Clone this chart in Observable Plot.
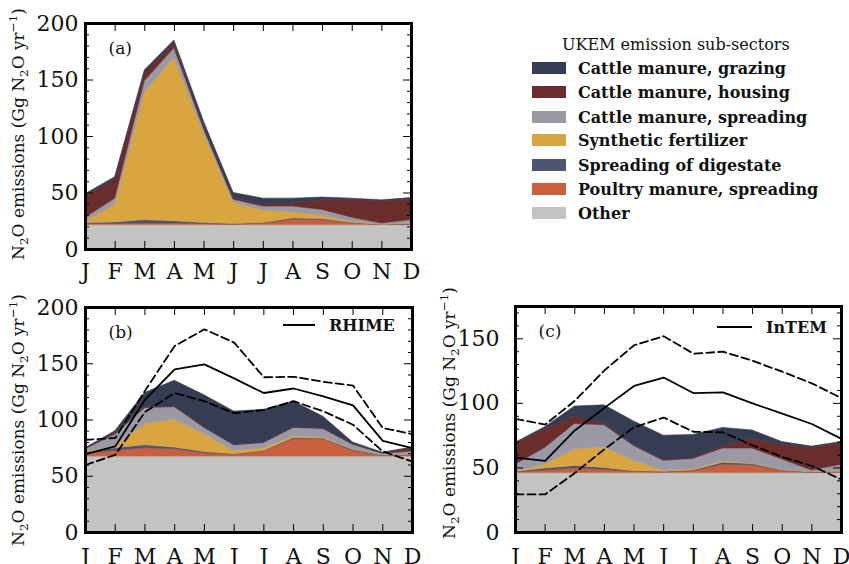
<!DOCTYPE html>
<html><head><meta charset="utf-8">
<script src="https://cdn.jsdelivr.net/npm/d3@7"></script>
<script src="https://cdn.jsdelivr.net/npm/@observablehq/plot@0.6"></script>
<style>
body{margin:0;background:#fff;}
#root{position:relative;width:849px;height:564px;overflow:hidden;font-family:"DejaVu Serif",serif;color:#111;}
.panel{position:absolute;}
.ylab{position:absolute;transform:translate(-50%,-50%) rotate(-90deg);white-space:nowrap;font-size:17px;}
.ylab sub,.ylab sup{font-size:70%;line-height:0;}
.legtitle{position:absolute;left:562px;top:35px;font-size:16px;white-space:nowrap;}
.item{position:absolute;left:532px;height:24px;display:flex;align-items:center;white-space:nowrap;font-weight:bold;font-size:16px;}
.sw{width:34px;height:12px;margin-right:12px;}
.lineleg{position:absolute;display:flex;align-items:center;font-weight:bold;font-size:16px;white-space:nowrap;}
.lineleg span.l{display:inline-block;height:0;border-top:2px solid #000;margin-right:14px;}
</style></head><body><div id="root"></div>
<script>
const months = ["J","F","M","A","M","J","J","A","S","O","N","D"];
// stack order bottom -> top
const stackOrder = ["Other","Poultry manure, spreading","Spreading of digestate","Synthetic fertilizer","Cattle manure, spreading","Cattle manure, housing","Cattle manure, grazing"];
const stackColors = ["#c3c3c1","#c8603f","#4f5571","#d8a541","#9b99a6","#6b2c2c","#363d53"];
const legendOrder = ["Cattle manure, grazing","Cattle manure, housing","Cattle manure, spreading","Synthetic fertilizer","Spreading of digestate","Poultry manure, spreading","Other"];

// Panel (a): UKEM inventory
const aOther     = [21.6,21.6,21.6,21.6,21.6,21.6,21.6,21.6,21.6,21.6,21.6,21.6];
const aPoultry   = [0.9,0.9,1.4,1.4,0.9,0.4,1.4,4.9,4.4,1.4,0.2,0.4];
const aDigestate = [1.0,1.5,3.0,2.0,1.0,0.5,0.5,1.0,1.0,0.5,0.2,0.5];
const aSynthetic = [1.0,16,113,145,79.5,19,11,5.5,3,1,0.2,0.5];
const aSpreading = [3.5,5,10,8,3.5,2.5,3.5,5,5,3.5,0.8,3];
const aHousing   = [19,17,7,4,1.5,1.5,1.5,3,8.5,16,19.5,18];
const aGrazing   = [2,2,2.5,3,5,4.5,5.5,4,2.5,1,1,1.5];

// Panel (b): RHIME-scaled sectors
const bOther     = [67.5,67.5,67.5,67.5,67.5,67.5,67.5,67.5,67.5,67.5,67.5,67.5];
const bPoultry   = [2.5,5,7.5,6.5,3,1.5,4.5,15.5,15.5,5,0.5,1];
const bDigestate = [1,2.5,2.5,1.5,1,0.5,0.5,1,0.5,1,0.5,0.5];
const bSynthetic = [0.5,1.5,19,25,16,3,2.5,1.5,1,0.5,0.2,0.5];
const bSpreading = [2.5,10.5,14,11,5.5,5,4.5,7.5,7.5,4,1.3,2.5];
const bHousing   = [0.5,1.5,1,0.5,0.5,0.5,0.5,0.5,0.5,0.5,0.5,3];
const bGrazing   = [0.5,1.5,12.5,23,28.5,29.5,29,23,10.5,1.5,0.5,0.5];
const rhimeMean  = [69.6,76.5,118,145,149.4,137,124,128,121,113,81.5,75];
const rhimeHigh  = [82.4,84,126,165.8,180.6,168.8,138,138.4,134,130.6,92.9,87.5];
const rhimeLow   = [60,69,107,124,116.7,106,109,116.7,107.7,95.8,72,63];

// Panel (c): InTEM-scaled sectors
const cOther     = [46,46,46,46,46,46,46,46,46,46,46,46];
const cPoultry   = [0.5,2,3.5,2.5,1,0.5,1.5,6.5,6,1.5,0.3,0.5];
const cDigestate = [0.5,1.5,2,1.5,0.5,0.5,0.5,1.5,1,0.5,0.3,0.5];
const cSynthetic = [0.5,3,13,16,8,1,1,1,0.5,0.5,0.2,0.5];
const cSpreading = [5,13,19.5,17,11.5,7.5,8,10,11.5,8,1.2,5];
const cHousing   = [16.5,14.5,6,1,0.5,0.5,0.5,1.5,7.5,11.5,18,16.5];
const cGrazing   = [0.5,1.5,7.5,14.5,18.5,19,18,14.5,6.5,2,0.5,1];
const intemMean  = [58,55.5,79,96.5,113.5,120,108,108.5,100,92,84,72.5];
const intemHigh  = [88,83.5,102,125.5,145,152,138.5,140,133,124.5,115.5,104];
const intemLow   = [29.5,29.5,46,64.5,81.5,89,78,77.5,67.5,58.5,51.5,41];

const root = document.getElementById("root");

function drawPanel({left, top, width, height, ml, mr, mt, mb, yMax, layers, mean, high, low, tag, xPad, yPad}) {
  const rows = [];
  stackOrder.forEach((s, k) => layers[k].forEach((v, i) => rows.push({m: i, sector: s, v})));
  const iw = width - ml - mr, ih = height - mt - mb;
  const major = d3.range(0, yMax + 0.001, 50);
  const minor = d3.range(0, yMax + 0.001, 10).filter(d => d % 50 !== 0);
  const mi = d3.range(12);
  const marks = [
    Plot.areaY(rows, {x: "m", y: "v", fill: "sector", stroke: "sector", strokeWidth: 0.6, z: "sector", order: stackOrder})
  ];
  if (mean) {
    marks.push(
      Plot.lineY(high, {x: (d, i) => i, y: d => d, stroke: "#000", strokeWidth: 1.8, strokeDasharray: "8,4"}),
      Plot.lineY(low, {x: (d, i) => i, y: d => d, stroke: "#000", strokeWidth: 1.8, strokeDasharray: "8,4"}),
      Plot.lineY(mean, {x: (d, i) => i, y: d => d, stroke: "#000", strokeWidth: 1.8})
    );
  }
  marks.push(
    Plot.tickY(major, {y: d => d, insetRight: iw - 8, stroke: "#000", strokeWidth: 1}),
    Plot.tickY(major, {y: d => d, insetLeft: iw - 8, stroke: "#000", strokeWidth: 1}),
    Plot.tickY(minor, {y: d => d, insetRight: iw - 4, stroke: "#000", strokeWidth: 1}),
    Plot.tickY(minor, {y: d => d, insetLeft: iw - 4, stroke: "#000", strokeWidth: 1}),
    Plot.tickX(mi, {x: d => d, insetTop: ih - 8, stroke: "#000", strokeWidth: 1}),
    Plot.tickX(mi, {x: d => d, insetBottom: ih - 8, stroke: "#000", strokeWidth: 1}),
    Plot.axisX(mi, {tickFormat: i => months[i], tickSize: 0, tickPadding: xPad, fontSize: 22, fill: "#111", label: null}),
    Plot.axisY(major, {tickSize: 0, tickPadding: yPad, fontSize: 22, fill: "#111", label: null}),
    Plot.text([tag], {frameAnchor: "top-left", dx: 23, dy: 25, textAnchor: "start", lineAnchor: "middle", fontSize: 17, fill: "#111"}),
    Plot.frame({stroke: "#000", strokeWidth: 3})
  );
  const svg = Plot.plot({
    width, height, marginLeft: ml, marginRight: mr, marginTop: mt, marginBottom: mb,
    x: {domain: [0, 11], label: null},
    y: {domain: [0, yMax], label: null},
    color: {domain: stackOrder, range: stackColors},
    style: {fontFamily: "DejaVu Serif, serif", fontSize: "22px", background: "transparent", overflow: "visible"},
    marks
  });
  const div = document.createElement("div");
  div.className = "panel";
  div.style.left = left + "px";
  div.style.top = top + "px";
  div.appendChild(svg);
  root.appendChild(div);
}

drawPanel({left: 0, top: 0, width: 430, height: 290, ml: 85, mr: 19, mt: 23, mb: 41, yMax: 200,
  layers: [aOther, aPoultry, aDigestate, aSynthetic, aSpreading, aHousing, aGrazing], tag: "(a)", xPad: 14, yPad: 7});
drawPanel({left: 0, top: 290, width: 430, height: 274, ml: 85, mr: 18, mt: 17, mb: 32, yMax: 200,
  layers: [bOther, bPoultry, bDigestate, bSynthetic, bSpreading, bHousing, bGrazing],
  mean: rhimeMean, high: rhimeHigh, low: rhimeLow, tag: "(b)", xPad: 16, yPad: 7});
drawPanel({left: 430, top: 290, width: 419, height: 274, ml: 85, mr: 8, mt: 16, mb: 32, yMax: 175,
  layers: [cOther, cPoultry, cDigestate, cSynthetic, cSpreading, cHousing, cGrazing],
  mean: intemMean, high: intemHigh, low: intemLow, tag: "(c)", xPad: 16, yPad: 16});

// y-axis labels
const ylabHTML = 'N<sub>2</sub>O emissions (Gg N<sub>2</sub>O yr<sup>\u22121</sup>)';
[[18, 134], [18, 420], [449, 413]].forEach(([x, y]) => {
  const d = document.createElement("div");
  d.className = "ylab";
  d.style.left = x + "px";
  d.style.top = y + "px";
  d.innerHTML = ylabHTML;
  root.appendChild(d);
});

// sector legend
const t = document.createElement("div");
t.className = "legtitle";
t.textContent = "UKEM emission sub-sectors";
root.appendChild(t);
const rowY = [68, 92, 117, 140, 165, 189, 213];
legendOrder.forEach((s, k) => {
  const it = document.createElement("div");
  it.className = "item";
  it.style.top = (rowY[k] - 12) + "px";
  const sw = document.createElement("span");
  sw.className = "sw";
  sw.style.background = stackColors[stackOrder.indexOf(s)];
  it.appendChild(sw);
  it.appendChild(document.createTextNode(s));
  root.appendChild(it);
});

// line legends
[["RHIME", 283, 325, 32], ["InTEM", 717, 327, 35]].forEach(([name, x, y, w]) => {
  const d = document.createElement("div");
  d.className = "lineleg";
  d.style.left = x + "px";
  d.style.top = (y - 12) + "px";
  d.style.height = "24px";
  d.innerHTML = `<span class="l" style="width:${w}px"></span>${name}`;
  root.appendChild(d);
});
</script></body></html>
